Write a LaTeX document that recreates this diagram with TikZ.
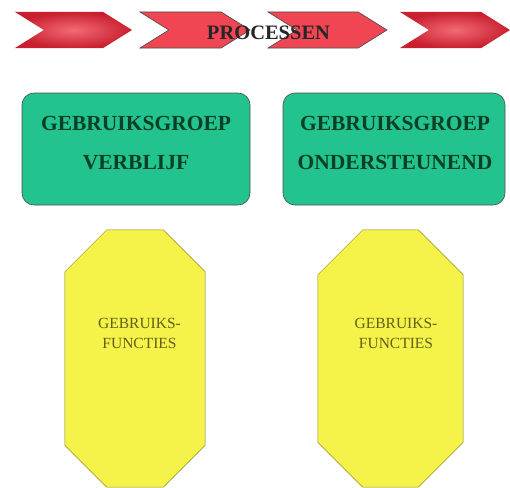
\documentclass[tikz,border=0pt]{standalone}
\usepackage{fontspec}
\setmainfont{Liberation Serif}
\usepackage{xcolor}
\usetikzlibrary{shapes.symbols, positioning, calc}
\definecolor{chevred}{HTML}{F04552}
\definecolor{chevdark}{HTML}{C8202E}
\definecolor{groepgreen}{HTML}{22C38E}
\definecolor{groeptext}{HTML}{0A3F25}
\definecolor{functyellow}{HTML}{F5F24A}
\definecolor{functline}{HTML}{8A8A20}

\newcommand{\functoct}[2]{% octagon round node #1, corner cut #2
	\draw[functline, line width=0.5pt, fill=functyellow]
		($(#1.north west)+(#2,0)$) -- ($(#1.north east)+(-#2,0)$) -- ($(#1.north east)+(0,#2)$)
		-- ($(#1.south east)+(0,-#2)$) -- ($(#1.south east)+(-#2,0)$) -- ($(#1.south west)+(#2,0)$)
		-- ($(#1.south west)+(0,-#2)$) -- ($(#1.north west)+(0,#2)$) -- cycle;}

\begin{document}
\begin{tikzpicture}[x=1pt, y=-1pt,
		chevron/.style={signal, signal to=east, signal from=west, signal pointer angle=64,
			minimum height=36pt, inner sep=0pt, draw=none}, % process arrows
		chevronsoft/.style={chevron, inner color=chevred!80!white, outer color=chevdark},
		chevronflat/.style={chevron, fill=chevred, draw=black!70, line width=0.6pt},
		groepbox/.style={draw=black!70, line width=0.6pt, fill=groepgreen, rounded corners=12pt,
			minimum height=112pt},
		groeptext/.style={align=center, text=groeptext,
			font=\fontsize{21.5}{39}\selectfont\bfseries},
		functbox/.style={rectangle, minimum height=257pt, inner sep=0pt},
		functtext/.style={align=center, text=functline!70!black,
			font=\fontsize{15.5}{20}\selectfont}
		]
		\useasboundingbox (0,0) rectangle (510,487);
		% Process arrows
		\node[chevronsoft, minimum width=117pt] (proc1) at (73.5,30) {};
		\node[chevronflat, minimum width=110pt] (proc2) at (195,30) {};
		\node[chevronflat, minimum width=119pt] (proc3) at (327.5,30) {};
		\node[chevronsoft, minimum width=110pt] (proc4) at (455,30) {};
		\node[font=\fontsize{20.5}{24}\selectfont\bfseries, text=black!85] (proclabel) at (268.5,33) {PROCESSEN};
		% Groups
		\node[groepbox, minimum width=228pt] (verblijf) at (136,149) {};
		\node[groepbox, minimum width=222pt] (ondersteunend) at (394,149) {};
		\node[groeptext] (verblijflabel) at ($(verblijf.center)+(0,-6)$) {GEBRUIKSGROEP\\VERBLIJF};
		\node[groeptext] (ondersteunendlabel) at ($(ondersteunend.center)+(1,-6)$) {GEBRUIKSGROEP\\ONDERSTEUNEND};
		% Functions
		\node[functbox, minimum width=140pt] (funct1) at (135,358.5) {};
		\node[functbox, minimum width=145pt] (funct2) at (390.5,358.5) {};
		\functoct{funct1}{42}
		\functoct{funct2}{45}
		\node[functtext] (funct1label) at ($(funct1.center)+(4.5,-25)$) {GEBRUIKS-\\FUNCTIES};
		\node[functtext] (funct2label) at ($(funct2.center)+(5.5,-25)$) {GEBRUIKS-\\FUNCTIES};
	\end{tikzpicture}
\end{document}
